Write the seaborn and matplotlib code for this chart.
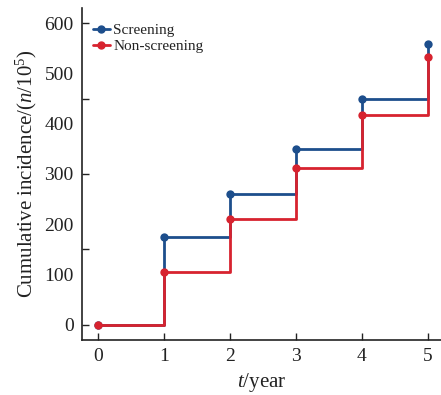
import pandas as pd
import numpy as np
import matplotlib
matplotlib.use('Agg')
import matplotlib.pyplot as plt
import seaborn as sns

years = [0, 1, 2, 3, 4, 5]
screening = [0, 175, 260, 350, 449, 558]
non_screening = [0, 105, 211, 312, 417, 533]
groups = ['Screening', 'Non-screening']
colors = ['#1d4e8c', '#d7232f']

sns.set_style('ticks')
plt.rcParams['font.family'] = ['Liberation Serif', 'DejaVu Serif']
plt.rcParams['mathtext.fontset'] = 'custom'
plt.rcParams['mathtext.rm'] = 'Liberation Serif'
plt.rcParams['mathtext.it'] = 'Liberation Serif:italic'
plt.rcParams['text.color'] = '#222222'
plt.rcParams['axes.labelcolor'] = '#222222'
plt.rcParams['xtick.color'] = '#222222'
plt.rcParams['ytick.color'] = '#222222'
plt.rcParams['axes.edgecolor'] = '#222222'

df = pd.DataFrame({
    'year': years * 2,
    'value': screening + non_screening,
    'group': [groups[0]] * len(years) + [groups[1]] * len(years),
})

fig = plt.figure(figsize=(4.41, 3.95), dpi=100)
ax = fig.add_axes([82/441, 1 - 340/395, 1 - 82/441, (340 - 8)/395])

sns.lineplot(data=df, x='year', y='value', hue='group', hue_order=groups,
             palette=colors, marker='o', markersize=6, markeredgewidth=0,
             linewidth=2.0, drawstyle='steps-post', legend=False, ax=ax)

ax.set_xlim(-0.25, 5.2)
ax.set_ylim(-30, 630)
ax.set_xticks(years)
ax.tick_params(axis='x', direction='in', length=5, width=1, labelsize=14, pad=6)

# tick marks every 150 (inside), labels every 100 (on a secondary axis)
ax.set_yticks(np.arange(0, 601, 150))
ax.set_yticklabels([])
ax.tick_params(axis='y', direction='in', length=5, width=1)
sec = ax.secondary_yaxis('left')
sec.set_yticks(np.arange(0, 601, 100))
sec.tick_params(axis='y', length=0, labelsize=14, pad=6)
sec.spines['left'].set_visible(False)
sec.set_ylabel(r'Cumulative incidence/($\it{n}$/10$^5$)', fontsize=15)

for s in ['left', 'bottom']:
    ax.spines[s].set_linewidth(1.2)
sns.despine(ax=ax)

ax.set_xlabel(r'$\it{t}$/year', fontsize=15)
ax.set_ylabel('')

handles = [plt.Line2D([], [], color=c, marker='o', markersize=5, linewidth=2) for c in colors]
ax.legend(handles, groups, loc='upper left', bbox_to_anchor=(0.0, 0.985), frameon=False,
          fontsize=11, handlelength=1.1, handletextpad=0.25, labelspacing=0.15, borderaxespad=0.3)

plt.savefig('out.png', dpi=100)
